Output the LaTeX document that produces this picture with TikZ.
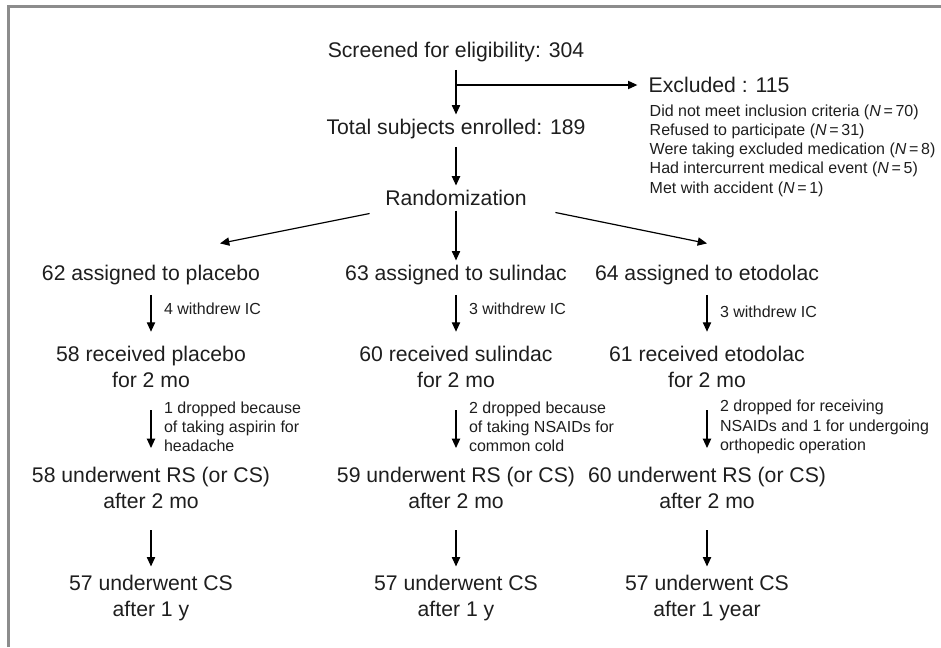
\documentclass[tikz,border=0pt]{standalone}
\usepackage{fontspec}
\setmainfont{Liberation Sans}
\usetikzlibrary{arrows.meta,positioning,calc}

\definecolor{framegray}{RGB}{140,140,140}
\definecolor{inkgray}{RGB}{30,30,30}

\tikzset{
  big/.style={font=\fontsize{15.9}{19.5}\selectfont, align=center, text=inkgray},
  small/.style={font=\fontsize{12}{14.4}\selectfont, align=left, text=inkgray},
  lab/.style={small, right=6pt},
  arr/.style={-{Triangle[length=7pt,width=6.2pt]}, line width=0.9pt},
  gapA/.style={shorten <=4pt, shorten >=7pt},
  gapB/.style={shorten <=13.5pt, shorten >=10.5pt},
  gapC/.style={shorten <=13pt, shorten >=3pt},
}

\begin{document}
\begin{tikzpicture}[x=0.75pt,y=0.75pt,yscale=-1]
\useasboundingbox (0,0) rectangle (941,647);

% Frame
\draw [color=framegray, line width=1.9pt] (8.5,647) -- (8.5,6.5) -- (941,6.5);

% Screening
\node [big] (scr) at (456,52) {Screened for eligibility: 304};
\node [big, anchor=west] (exc) at (644,85) {Excluded : 115};
\node [small, anchor=north west] (why) at (645,100) {Did not meet inclusion criteria (\textit{N}\,=\,70)\\
  Refused to participate (\textit{N}\,=\,31)\\
  Were taking excluded medication (\textit{N}\,=\,8)\\
  Had intercurrent medical event (\textit{N}\,=\,5)\\
  Met with accident (\textit{N}\,=\,1)};
\node [big] (tot) at (456,129) {Total subjects enrolled: 189};
\node [big] (rand) at (456,198) {Randomization};

\draw [arr, shorten <=2.5pt] (scr) -- (tot);
\draw [arr, shorten >=5pt] (scr.south |- exc) -- (exc.west);
\draw [arr, shorten <=2.5pt] (tot) -- (rand);

% Arms
\node [big] (pla1) at (151,275) {62 assigned to placebo};
\node [big] (sul1) at (456,275) {63 assigned to sulindac};
\node [big] (eto1) at (707,275) {64 assigned to etodolac};

\draw [arr] ($(rand.south west)+(-11,3)$) -- ($(pla1.north)+(69,-17)$);
\draw [arr] (rand) -- (sul1);
\draw [arr] ($(rand.south east)+(24,2)$) -- ($(eto1.north)+(0,-17)$);

\node [big] (pla2) at (151,366.5) {58 received placebo\\for 2 mo};
\node [big] (sul2) at (456,366.5) {60 received sulindac\\for 2 mo};
\node [big] (eto2) at (707,366.5) {61 received etodolac\\for 2 mo};

\draw [arr, gapA] (pla1) -- node [lab, yshift=5pt] {4 withdrew IC} (pla2);
\draw [arr, gapA] (sul1) -- node [lab, yshift=5pt] {3 withdrew IC} (sul2);
\draw [arr, gapA] (eto1) -- node [lab, yshift=3pt] {3 withdrew IC} (eto2);

\node [big] (pla3) at (151,487.5) {58 underwent RS (or CS)\\after 2 mo};
\node [big] (sul3) at (456,487.5) {59 underwent RS (or CS)\\after 2 mo};
\node [big] (eto3) at (707,487.5) {60 underwent RS (or CS)\\after 2 mo};

\draw [arr, gapB] (pla2) -- node [lab] {1 dropped because\\of taking aspirin for\\headache} (pla3);
\draw [arr, gapB] (sul2) -- node [lab] {2 dropped because\\of taking NSAIDs for\\common cold} (sul3);
\draw [arr, gapB] (eto2) -- node [lab] {2 dropped for receiving\\NSAIDs and 1 for undergoing\\orthopedic operation} (eto3);

\node [big] (pla4) at (151,598) {57 underwent CS\\after 1 y};
\node [big] (sul4) at (456,598) {57 underwent CS\\after 1 y};
\node [big] (eto4) at (707,598) {57 underwent CS\\after 1 year};

\draw [arr, gapC] (pla3) -- (pla4);
\draw [arr, gapC] (sul3) -- (sul4);
\draw [arr, gapC] (eto3) -- (eto4);

\end{tikzpicture}
\end{document}
